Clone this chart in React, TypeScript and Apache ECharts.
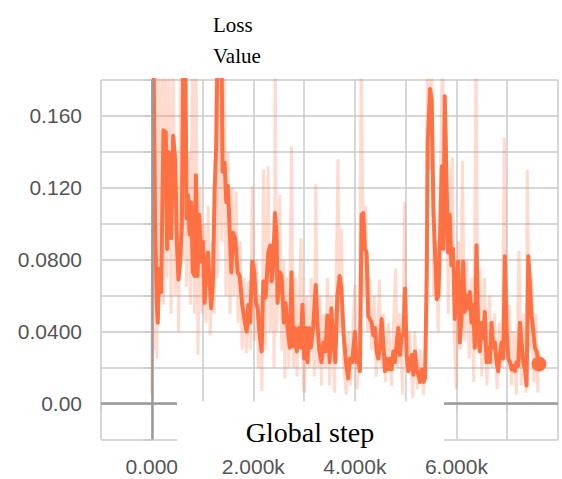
import React, { useEffect, useRef } from "react";
import * as echarts from "echarts";

// Smoothed loss curve (step, value)
const SMOOTH_STEPS = [
  0, 33, 66, 99, 118, 145, 184, 230, 276, 303, 329, 362, 382, 421, 461, 494, 526, 559, 592, 625,
  658, 684, 711, 744, 776, 809, 842, 869, 901, 934, 974, 1007, 1040, 1073, 1105, 1138, 1171, 1204,
  1237, 1270, 1303, 1369, 1395, 1434, 1467, 1500, 1533, 1566, 1599, 1645, 1691, 1731, 1777, 1823,
  1869, 1902, 1935, 1980, 2020, 2052, 2085, 2118, 2164, 2196, 2242, 2294, 2334, 2360, 2392, 2425,
  2458, 2477, 2523, 2556, 2602, 2634, 2674, 2719, 2752, 2785, 2818, 2857, 2896, 2935, 2968, 3001,
  3033, 3066, 3099, 3131, 3177, 3230, 3262, 3301, 3341, 3380, 3419, 3458, 3504, 3537, 3576, 3615,
  3655, 3700, 3733, 3779, 3831, 3868, 3901, 3947, 4000, 4033, 4066, 4099, 4132, 4165, 4197, 4230,
  4263, 4296, 4329, 4362, 4395, 4428, 4461, 4494, 4526, 4559, 4592, 4625, 4658, 4691, 4724, 4757,
  4790, 4822, 4855, 4888, 4921, 4954, 4987, 5020, 5053, 5086, 5119, 5151, 5184, 5217, 5250, 5283,
  5316, 5349, 5382, 5415, 5434, 5480, 5513, 5546, 5579, 5612, 5645, 5678, 5711, 5744, 5770, 5803,
  5836, 5868, 5901, 5934, 5967, 6000, 6033, 6066, 6099, 6132, 6165, 6197, 6230, 6263, 6296, 6329,
  6362, 6395, 6428, 6461, 6494, 6526, 6559, 6592, 6625, 6658, 6691, 6724, 6757, 6790, 6822, 6855,
  6888, 6921, 6954, 6987, 7020, 7053, 7086, 7119, 7151, 7184, 7217, 7250, 7283, 7316, 7349, 7382,
  7415, 7447, 7480, 7513, 7546, 7579, 7625,
];
const SMOOTH_VALUES = [
  0.3, 0.2, 0.099, 0.055, 0.045, 0.075, 0.062, 0.152, 0.151, 0.086, 0.14, 0.138, 0.092, 0.149, 0.136, 0.09, 0.069, 0.079, 0.099, 0.21,
  0.21, 0.103, 0.116, 0.094, 0.112, 0.073, 0.071, 0.127, 0.071, 0.105, 0.079, 0.09, 0.056, 0.073, 0.084, 0.068, 0.053, 0.068,
  0.118, 0.145, 0.21, 0.21, 0.129, 0.134, 0.112, 0.121, 0.097, 0.073, 0.095, 0.092, 0.073, 0.071, 0.056, 0.047,
  0.04, 0.055, 0.045, 0.079, 0.073, 0.056, 0.053, 0.04, 0.029, 0.068, 0.059, 0.084, 0.088, 0.068, 0.077, 0.106,
  0.094, 0.056, 0.073, 0.071, 0.045, 0.056, 0.042, 0.031, 0.073, 0.032, 0.042, 0.029, 0.042, 0.031, 0.055, 0.025,
  0.042, 0.023, 0.042, 0.031, 0.042, 0.066, 0.044, 0.029, 0.023, 0.034, 0.029, 0.049, 0.023, 0.053, 0.034, 0.023,
  0.06, 0.071, 0.064, 0.038, 0.021, 0.014, 0.025, 0.023, 0.04, 0.023, 0.025, 0.018, 0.105, 0.106, 0.086, 0.084,
  0.049, 0.047, 0.045, 0.038, 0.042, 0.029, 0.025, 0.031, 0.047, 0.034, 0.018, 0.025, 0.019, 0.025, 0.019, 0.029,
  0.023, 0.034, 0.042, 0.027, 0.038, 0.038, 0.064, 0.027, 0.018, 0.021, 0.027, 0.016, 0.029, 0.019, 0.016, 0.012,
  0.019, 0.012, 0.014, 0.071, 0.145, 0.175, 0.169, 0.108, 0.084, 0.058, 0.06, 0.094, 0.132, 0.086, 0.171, 0.127,
  0.084, 0.105, 0.077, 0.086, 0.047, 0.064, 0.079, 0.034, 0.047, 0.079, 0.051, 0.06, 0.053, 0.062, 0.045, 0.055,
  0.031, 0.088, 0.04, 0.029, 0.045, 0.036, 0.051, 0.023, 0.031, 0.023, 0.045, 0.031, 0.034, 0.023, 0.018, 0.027,
  0.034, 0.025, 0.082, 0.042, 0.025, 0.023, 0.019, 0.021, 0.018, 0.023, 0.021, 0.045, 0.034, 0.023, 0.019, 0.01,
  0.082, 0.066, 0.049, 0.04, 0.031, 0.029, 0.022,
];

// Raw (unsmoothed) loss values (step, value)
const RAW_STEPS = [
  0, 20, 45, 70, 100, 130, 160, 200, 230, 260, 300, 340, 380, 420, 460, 500, 530, 570, 600, 640,
  680, 720, 760, 800, 840, 870, 910, 950, 990, 1030, 1070, 1110, 1150, 1190, 1230, 1270, 1300, 1340,
  1380, 1420, 1460, 1500, 1540, 1580, 1620, 1660, 1700, 1740, 1780, 1820, 1860, 1900, 1940, 1980,
  2020, 2060, 2100, 2140, 2170, 2200, 2240, 2290, 2330, 2380, 2410, 2430, 2460, 2520, 2560, 2600,
  2620, 2660, 2700, 2750, 2790, 2830, 2860, 2940, 2980, 3010, 3050, 3100, 3140, 3200, 3230, 3270,
  3310, 3340, 3380, 3420, 3460, 3500, 3540, 3600, 3667, 3700, 3733, 3780, 3830, 3870, 3910, 3950,
  4000, 4040, 4090, 4125, 4170, 4210, 4250, 4290, 4330, 4380, 4420, 4480, 4520, 4560, 4600, 4660,
  4720, 4800, 4840, 4880, 4940, 4977, 5020, 5080, 5140, 5180, 5230, 5290, 5350, 5400, 5430, 5470,
  5510, 5550, 5600, 5640, 5680, 5725, 5760, 5800, 5840, 5880, 5920, 5960, 6000, 6040, 6080, 6117,
  6160, 6200, 6250, 6300, 6340, 6386, 6420, 6460, 6500, 6550, 6600, 6650, 6700, 6750, 6800, 6850,
  6900, 6942, 6990, 7040, 7080, 7130, 7180, 7230, 7280, 7330, 7370, 7395, 7440, 7480, 7520, 7560,
  7600, 7625,
];
const RAW_VALUES = [
  0.005, 0.22, 0.03, 0.2, 0.025, 0.2, 0.06, 0.19, 0.055, 0.2, 0.07, 0.19, 0.05, 0.2, 0.06, 0.12, 0.04, 0.2, 0.08, 0.2,
  0.065, 0.14, 0.055, 0.19, 0.05, 0.2, 0.027, 0.12, 0.05, 0.1, 0.045, 0.11, 0.038, 0.09, 0.05, 0.2, 0.07, 0.2,
  0.09, 0.19, 0.06, 0.14, 0.05, 0.12, 0.06, 0.118, 0.045, 0.09, 0.03, 0.07, 0.028, 0.068, 0.03, 0.121,
  0.035, 0.08, 0.02, 0.06, 0.007, 0.13, 0.03, 0.132, 0.04, 0.09, 0.02, 0.2, 0.04, 0.116, 0.03, 0.08,
  0.014, 0.07, 0.02, 0.143, 0.02, 0.07, 0.015, 0.092, 0.01, 0.006, 0.06, 0.02, 0.07, 0.015, 0.122, 0.02,
  0.06, 0.01, 0.05, 0.02, 0.07, 0.01, 0.06, 0.006, 0.136, 0.04, 0.097, 0.02, 0.005, 0.04, 0.01, 0.035,
  0.066, 0.008, 0.03, 0.2, 0.06, 0.11, 0.04, 0.07, 0.03, 0.06, 0.015, 0.069, 0.02, 0.05, 0.012, 0.045,
  0.01, 0.075, 0.02, 0.05, 0.005, 0.112, 0.02, 0.04, 0.003, 0.04, 0.008, 0.03, 0.005, 0.03, 0.2, 0.13,
  0.2, 0.06, 0.09, 0.04, 0.12, 0.2, 0.09, 0.15, 0.05, 0.11, 0.137, 0.035, 0.008, 0.09, 0.03, 0.135,
  0.035, 0.08, 0.025, 0.07, 0.012, 0.2, 0.03, 0.075, 0.015, 0.07, 0.01, 0.06, 0.02, 0.05, 0.008, 0.045,
  0.02, 0.148, 0.03, 0.055, 0.01, 0.04, 0.005, 0.085, 0.01, 0.05, 0.006, 0.13, 0.03, 0.07, 0.012, 0.05,
  0.006, 0.03,
];

const X_TICK_VALUES = [0, 2000, 4000, 6000];
const X_TICK_LABELS = ["0.000", "2.000k", "4.000k", "6.000k"];
const Y_TICK_VALUES = [0, 0.04, 0.08, 0.12, 0.16];
const Y_TICK_LABELS = ["0.00", "0.0400", "0.0800", "0.120", "0.160"];

const TITLE_LINES = ["Loss", "Value"];
const X_TITLE = "Global step";

const ORANGE = "#ff7043";
const GRID_COLOR = "#cacaca";

function lookup(values: number[], labels: string[], v: number, tol: number): string {
  for (let i = 0; i < values.length; i++) {
    if (Math.abs(values[i] - v) < tol) return labels[i];
  }
  return "";
}

export default function App() {
  const ref = useRef<HTMLDivElement>(null);

  useEffect(() => {
    if (!ref.current) return;
    const chart = echarts.init(ref.current, null, { renderer: "svg" });

    const smooth = SMOOTH_STEPS.map((s, i) => [s, SMOOTH_VALUES[i]]);
    const raw = RAW_STEPS.map((s, i) => [s, RAW_VALUES[i]]);
    const last = smooth[smooth.length - 1];

    chart.setOption({
      animation: false,
      backgroundColor: "#ffffff",
      grid: { left: 101, right: 4, top: 80, bottom: 39.5, containLabel: false },
      xAxis: {
        type: "value",
        min: -1000,
        max: 8000,
        interval: 1000,
        axisLine: { show: false },
        axisTick: { show: true, length: 8, lineStyle: { color: GRID_COLOR, width: 1.5 } },
        splitLine: { show: true, lineStyle: { color: GRID_COLOR, width: 1.5 } },
        axisLabel: {
          margin: 16,
          color: "#555",
          fontSize: 21,
          fontFamily: "Liberation Sans, Arial, sans-serif",
          showMaxLabel: false,
          formatter: (v: number) => lookup(X_TICK_VALUES, X_TICK_LABELS, v, 1),
        },
      },
      yAxis: {
        type: "value",
        min: -0.02,
        max: 0.18,
        interval: 0.02,
        axisLine: { show: false },
        axisTick: { show: true, length: 8, lineStyle: { color: GRID_COLOR, width: 1.5 } },
        splitLine: { show: true, lineStyle: { color: GRID_COLOR, width: 1.5 } },
        axisLabel: {
          margin: 19,
          color: "#555",
          fontSize: 21,
          fontFamily: "Liberation Sans, Arial, sans-serif",
          formatter: (v: number) => lookup(Y_TICK_VALUES, Y_TICK_LABELS, v, 1e-6),
        },
      },
      series: [
        {
          type: "line",
          data: raw,
          showSymbol: false,
          symbol: "none",
          clip: true,
          z: 2,
          lineStyle: { color: ORANGE, width: 3, opacity: 0.26 },
          markLine: {
            silent: true,
            symbol: "none",
            label: { show: false },
            lineStyle: { color: "#9a9a9a", width: 2.5, type: "solid" },
            data: [{ yAxis: 0 }, { xAxis: 0 }],
          },
        },
        {
          type: "line",
          data: smooth,
          showSymbol: false,
          symbol: "none",
          clip: true,
          z: 3,
          lineStyle: { color: ORANGE, width: 4, join: "round" },
        },
        {
          type: "scatter",
          data: [last],
          symbol: "circle",
          symbolSize: 15,
          z: 4,
          itemStyle: { color: ORANGE, opacity: 1 },
        },
      ],
      graphic: [
        {
          type: "text",
          left: 213,
          top: 9,
          z: 100,
          style: {
            text: TITLE_LINES.join("\n"),
            font: "21px 'Liberation Serif', 'Times New Roman', serif",
            fill: "#000",
            lineHeight: 31,
          },
        },
        {
          type: "rect",
          shape: { x: 177, y: 401.5, width: 267, height: 41 },
          z: 100,
          style: { fill: "#ffffff" },
        },
        {
          type: "text",
          x: 310,
          y: 432,
          z: 101,
          style: {
            text: X_TITLE,
            font: "28px 'Liberation Serif', 'Times New Roman', serif",
            fill: "#000",
            align: "center",
            verticalAlign: "middle",
          },
        },
      ],
    });

    return () => chart.dispose();
  }, []);

  return (
    <div
      ref={ref}
      style={{ position: "fixed", left: 0, top: 0, width: 562, height: 479 }}
    />
  );
}
